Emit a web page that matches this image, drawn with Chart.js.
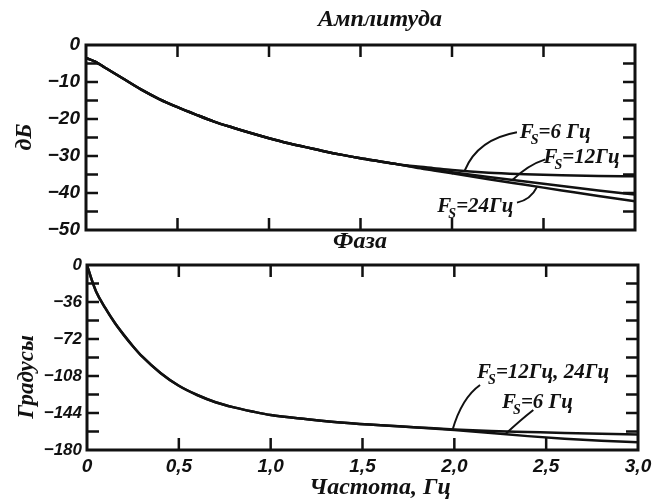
<!DOCTYPE html>
<html>
<head>
<meta charset="utf-8">
<script src="https://cdn.jsdelivr.net/npm/chart.js@4.4.1/dist/chart.umd.min.js"></script>
<style>
  html, body { margin: 0; padding: 0; background: #fff; }
  #wrap { position: relative; width: 652px; height: 500px; }
  .box { position: absolute; left: 0; width: 652px; }
</style>
</head>
<body>
<div id="wrap">
  <div class="box" style="top:0;height:236px"><canvas id="ampChart"></canvas></div>
  <div class="box" style="top:226px;height:274px"><canvas id="phaseChart"></canvas></div>
</div>
<script>
// АЧХ, дБ (частота в Гц)
const ampFreq  = [0, 0.05, 0.1, 0.15, 0.2, 0.3, 0.4, 0.5, 0.6, 0.7, 0.8, 0.9, 1.0, 1.1, 1.2, 1.3, 1.4, 1.5, 1.6, 1.7, 1.8, 1.9, 2.0, 2.2, 2.4, 2.6, 2.8, 3.0];
const ampFs6   = [-3.5, -4.5, -6.0, -7.5, -9.0, -12.0, -14.6, -16.8, -18.8, -20.7, -22.3, -23.8, -25.2, -26.5, -27.6, -28.7, -29.7, -30.6, -31.4, -32.2, -32.8, -33.3, -33.8, -34.5, -34.9, -35.2, -35.4, -35.5];
const ampFs12  = [-3.5, -4.5, -6.0, -7.5, -9.0, -12.0, -14.6, -16.8, -18.8, -20.7, -22.3, -23.8, -25.2, -26.5, -27.6, -28.7, -29.7, -30.6, -31.4, -32.2, -33.0, -33.7, -34.4, -35.7, -36.9, -38.1, -39.3, -40.4];
const ampFs24  = [-3.5, -4.5, -6.0, -7.5, -9.0, -12.0, -14.6, -16.8, -18.8, -20.7, -22.3, -23.8, -25.2, -26.5, -27.6, -28.7, -29.7, -30.6, -31.4, -32.2, -33.1, -33.9, -34.7, -36.3, -37.8, -39.3, -40.8, -42.2];

// ФЧХ, градусы
const phaseFreq    = [0, 0.025, 0.05, 0.1, 0.15, 0.2, 0.25, 0.3, 0.4, 0.5, 0.6, 0.7, 0.8, 0.9, 1.0, 1.2, 1.4, 1.6, 1.8, 2.0, 2.2, 2.4, 2.6, 2.8, 3.0];
const phaseFs12_24 = [0, -14, -26, -42, -56, -68, -79, -89, -105, -117.5, -126.5, -133.5, -138.5, -142.5, -146, -150, -153.5, -156, -158, -160, -161.5, -162.5, -163.5, -164.3, -165];
const phaseFs6     = [0, -14, -26, -42, -56, -68, -79, -89, -105, -117.5, -126.5, -133.5, -138.5, -142.5, -146, -150, -153.5, -156, -158, -160.5, -163.5, -166.5, -169, -171, -172.5];

// засечки на рамке
const freqTicks   = [0.5, 1.0, 1.5, 2.0, 2.5];
const ampTicksY   = [-5, -10, -15, -20, -25, -30, -35, -40, -45];
const phaseTicksY = [-18, -36, -54, -72, -90, -108, -126, -144, -162];

const INK = '#111';
const WORD_FONT = 'italic bold 24px "Liberation Serif", serif';
const NOTE_FONT = 'italic bold 21px "Liberation Serif", serif';
const SUB_FONT = 'italic bold 14px "Liberation Serif", serif';
const NUM = { family: '"Liberation Sans", sans-serif', style: 'italic', weight: 'bold' };

const pts = (xs, ys) => xs.map((x, i) => ({ x: x, y: ys[i] }));
const curve = (data) => ({
  data: data,
  borderColor: INK,
  borderWidth: 2.5,
  pointRadius: 0,
  fill: false,
  cubicInterpolationMode: 'monotone'
});
const minus = (v) => String(v).replace('-', '\u2212');

// рамка с внутренними засечками, подписи и выноски
const framePlugin = {
  id: 'frame',
  afterDraw(chart, args, opts) {
    const { ctx, chartArea: a, scales: { x, y } } = chart;
    ctx.save();
    ctx.strokeStyle = INK;
    ctx.lineWidth = 3;
    ctx.strokeRect(a.left, a.top, a.right - a.left, a.bottom - a.top);
    ctx.lineWidth = 2.5;
    ctx.beginPath();
    opts.xTicks.forEach(v => {
      const px = x.getPixelForValue(v);
      ctx.moveTo(px, a.top); ctx.lineTo(px, a.top + 12);
      ctx.moveTo(px, a.bottom); ctx.lineTo(px, a.bottom - 12);
    });
    opts.yTicks.forEach(v => {
      const py = y.getPixelForValue(v);
      ctx.moveTo(a.left, py); ctx.lineTo(a.left + 12, py);
      ctx.moveTo(a.right, py); ctx.lineTo(a.right - 12, py);
    });
    ctx.stroke();

    // выноски
    ctx.lineWidth = 2;
    opts.notes.forEach(n => {
      const [p0, c, p1] = n.line.map(p => [x.getPixelForValue(p[0]), y.getPixelForValue(p[1])]);
      ctx.beginPath();
      ctx.moveTo(p0[0], p0[1]);
      ctx.quadraticCurveTo(c[0], c[1], p1[0], p1[1]);
      ctx.stroke();
      let tx = x.getPixelForValue(n.x);
      const ty = y.getPixelForValue(n.y);
      ctx.fillStyle = INK;
      ctx.textBaseline = 'alphabetic';
      ctx.textAlign = 'left';
      ctx.font = NOTE_FONT;
      ctx.fillText('F', tx, ty);
      tx += ctx.measureText('F').width - 3;
      ctx.font = SUB_FONT;
      ctx.fillText('S', tx, ty + 6);
      tx += ctx.measureText('S').width;
      ctx.font = NOTE_FONT;
      ctx.fillText(n.text, tx, ty);
    });

    // заголовки
    ctx.fillStyle = INK;
    ctx.textAlign = 'center';
    ctx.textBaseline = 'middle';
    opts.titles.forEach(t => {
      ctx.save();
      ctx.font = t.font || WORD_FONT;
      ctx.translate(t.x, t.y);
      if (t.rotate) ctx.rotate(-Math.PI / 2);
      ctx.fillText(t.text, 0, 0);
      ctx.restore();
    });
    ctx.restore();
  }
};

new Chart('ampChart', {
  type: 'line',
  data: {
    datasets: [
      curve(pts(ampFreq, ampFs6)),
      curve(pts(ampFreq, ampFs12)),
      curve(pts(ampFreq, ampFs24))
    ]
  },
  plugins: [framePlugin],
  options: {
    animation: false,
    responsive: true,
    maintainAspectRatio: false,
    layout: { padding: { top: 45, right: 17, bottom: 6, left: 0 } },
    plugins: {
      legend: { display: false },
      tooltip: { enabled: false },
      frame: {
        xTicks: freqTicks,
        yTicks: ampTicksY,
        notes: [
          { text: '=6 Гц',  x: 2.37, y: -25.0, line: [[2.355, -23.6], [2.14, -25.5], [2.07, -33.9]] },
          { text: '=12Гц', x: 2.50, y: -31.8, line: [[2.51, -30.9], [2.415, -32.4], [2.33, -36.5]] },
          { text: '=24Гц', x: 1.92, y: -45.2, line: [[2.355, -42.6], [2.43, -41.8], [2.464, -38.4]] }
        ],
        titles: [
          { text: 'Амплитуда', x: 380, y: 20 },
          { text: 'дБ', x: 25, y: 137, rotate: true }
        ]
      }
    },
    scales: {
      x: { type: 'linear', min: 0, max: 3, display: false },
      y: {
        min: -50, max: 0,
        afterFit: (s) => { s.width = 86; s.paddingTop = 0; s.paddingBottom = 0; },
        border: { display: false },
        grid: { display: false, drawTicks: false },
        ticks: { stepSize: 10, padding: 6, color: INK, font: Object.assign({ size: 19 }, NUM), callback: minus }
      }
    }
  }
});

new Chart('phaseChart', {
  type: 'line',
  data: {
    datasets: [
      curve(pts(phaseFreq, phaseFs12_24)),
      curve(pts(phaseFreq, phaseFs6))
    ]
  },
  plugins: [framePlugin],
  options: {
    animation: false,
    responsive: true,
    maintainAspectRatio: false,
    layout: { padding: { top: 39, right: 14, bottom: 0, left: 0 } },
    plugins: {
      legend: { display: false },
      tooltip: { enabled: false },
      frame: {
        xTicks: freqTicks,
        yTicks: phaseTicksY,
        notes: [
          { text: '=12Гц, 24Гц', x: 2.124, y: -110, line: [[2.14, -116.7], [2.04, -129.4], [1.99, -160.5]] },
          { text: '=6 Гц', x: 2.26, y: -139, line: [[2.43, -141], [2.36, -150.8], [2.277, -164.6]] }
        ],
        titles: [
          { text: 'Фаза', x: 360, y: 16 },
          { text: 'Градусы', x: 27, y: 151, rotate: true, font: 'italic bold 23px "Liberation Serif", serif' },
          { text: 'Частота, Гц', x: 380, y: 262 }
        ]
      }
    },
    scales: {
      x: {
        type: 'linear', min: 0, max: 3,
        afterFit: (s) => { s.height = 50; s.paddingLeft = 0; s.paddingRight = 0; },
        border: { display: false },
        grid: { display: false, drawTicks: false },
        ticks: { stepSize: 0.5, padding: 5, maxRotation: 0, color: INK, font: Object.assign({ size: 19 }, NUM),
          callback: (v) => v === 0 ? '0' : v.toFixed(1).replace('.', ',') }
      },
      y: {
        min: -180, max: 0,
        afterFit: (s) => { s.width = 87; s.paddingTop = 0; s.paddingBottom = 0; },
        border: { display: false },
        grid: { display: false, drawTicks: false },
        ticks: { stepSize: 36, padding: 5, color: INK, font: Object.assign({ size: 17 }, NUM), callback: minus }
      }
    }
  }
});
</script>
</body>
</html>
